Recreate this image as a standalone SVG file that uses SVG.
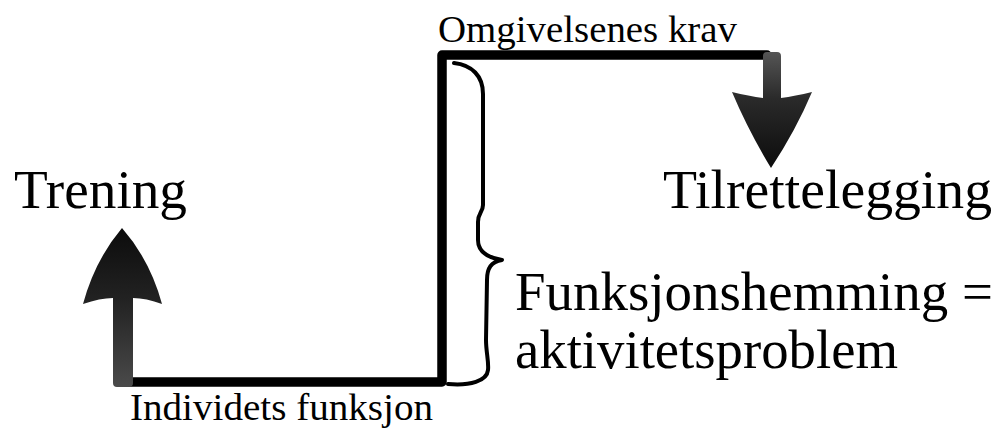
<svg xmlns="http://www.w3.org/2000/svg" width="998" height="429" viewBox="0 0 998 429">
<style>
.t{font-family:"Liberation Serif","Times New Roman",serif;fill:#000}
.big{font-size:55px}
.small{font-size:37px}
.line{fill:none;stroke:#000;stroke-width:9.5;stroke-linecap:round;stroke-linejoin:round}
.brace{fill:none;stroke:#000;stroke-width:4;stroke-linecap:round;stroke-linejoin:round}
</style>
<defs>
<linearGradient id="gUp" x1="0" y1="228" x2="0" y2="387" gradientUnits="userSpaceOnUse">
<stop offset="0" stop-color="#0c0c0c"/>
<stop offset="0.45" stop-color="#222"/>
<stop offset="1" stop-color="#4a4a4a"/>
</linearGradient>
<linearGradient id="gDown" x1="0" y1="52" x2="0" y2="168" gradientUnits="userSpaceOnUse">
<stop offset="0" stop-color="#555"/>
<stop offset="0.4" stop-color="#2a2a2a"/>
<stop offset="1" stop-color="#0c0c0c"/>
</linearGradient>
</defs>
<rect width="998" height="429" fill="#fff"/>
<g id="connectors">
<path class="line" d="M120,382 L442,382 L442,55 L767,55"/>
<path class="brace" d="M454,63 C472,65 483,76 483,94 L483,205 C483,212 478,213 478,222 L478,240 C478,253 490,258 502,260 C491,262 487,268 487,280 L486,340 C486,352 489,362 488,370 C487,381 470,386 448,384"/>
</g>
<g id="arrow-up">
<path fill="url(#gUp)" d="M122,228 Q95,260 83,304 Q100,298 113,298 L113,383 Q113,387 117,387 L129,387 Q133,387 133,383 L133,298 Q146,298 162,304 Q150,260 122,228 Z"/>
</g>
<g id="arrow-down">
<path fill="url(#gDown)" d="M763,56 Q763,52 767,52 L777,52 Q781,52 781,56 L781,98 Q795,96 812,92 Q796,130 771,168 Q748,130 732,92 Q749,96 763,98 Z"/>
</g>
<g id="node-omgivelsenes">
<text class="t small" x="438" y="42" textLength="299" lengthAdjust="spacingAndGlyphs">Omgivelsenes krav</text>
</g>
<g id="node-trening">
<text class="t big" x="14" y="208" textLength="173" lengthAdjust="spacingAndGlyphs">Trening</text>
</g>
<g id="node-tilrettelegging">
<text class="t big" x="663" y="208" textLength="329" lengthAdjust="spacingAndGlyphs">Tilrettelegging</text>
</g>
<g id="node-funksjonshemming">
<text class="t big" x="515" y="310" textLength="478" lengthAdjust="spacingAndGlyphs">Funksjonshemming =</text>
<text class="t big" x="515" y="368" textLength="383" lengthAdjust="spacingAndGlyphs">aktivitetsproblem</text>
</g>
<g id="node-individets">
<text class="t small" x="130" y="420" textLength="303" lengthAdjust="spacingAndGlyphs">Individets funksjon</text>
</g>
</svg>
